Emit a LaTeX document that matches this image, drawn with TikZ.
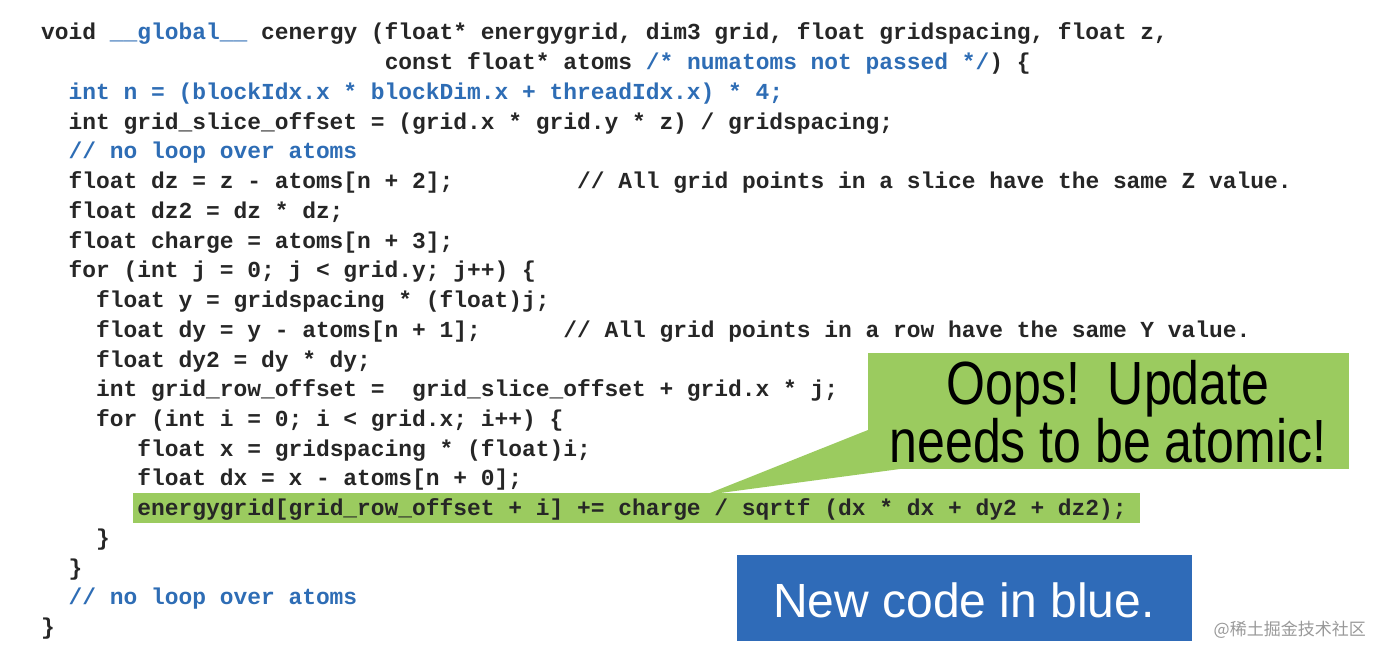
\documentclass[tikz,border=0pt]{standalone}
\usepackage{fontspec}
\setmonofont{Liberation Mono}
\setmainfont{Liberation Sans}
\newfontfamily\narrow[FakeStretch=0.82]{Liberation Sans}
\newfontfamily\cjk{Noto Sans CJK SC}
\definecolor{cb}{HTML}{2E6DB5}
\definecolor{gr}{HTML}{9BCB5F}
\definecolor{bx}{HTML}{2F6BB8}
\begin{document}
\begin{tikzpicture}[x=1pt,y=-1pt,
  code/.style={anchor=base west,inner sep=0pt,font=\fontsize{22.9}{22.9}\selectfont\ttfamily\bfseries,text=black!85}]
\useasboundingbox (0,0) rectangle (1384,660);
\fill[white] (0,0) rectangle (1384,660);
\fill[gr] (133,493) rectangle (1140,523);
\fill[gr] (868,430) -- (900,469) -- (705,495) -- cycle;
\fill[gr] (868,353) rectangle (1349,469);
\node[inner sep=0pt,align=center,font=\fontsize{61}{61}\selectfont\narrow] (oops) at (1108,412) {Oops!\ \ Update\\[-3pt]needs to be atomic!};
\fill[bx] (737,555) rectangle (1192,641);
\node[text=white,inner sep=0pt,font=\fontsize{48}{48}\selectfont] (new) at (964,600) {New code in blue.};
\node[anchor=east,text=black!40,inner sep=0pt,font=\fontsize{17}{17}\selectfont\cjk] (wm) at (1366,630) {@稀土掘金技术社区};
\def\L#1#2{\node[code] at (41,{40+29.73*(#1-1)}) {#2};}
\L{1}{void \textcolor{cb}{\_\_global\_\_} cenergy (float* energygrid, dim3 grid, float gridspacing, float z,}
\L{2}{\ \ \ \ \ \ \ \ \ \ \ \ \ \ \ \ \ \ \ \ \ \ \ \ \ const float* atoms \textcolor{cb}{/* numatoms not passed */}) \{}
\L{3}{\ \ \textcolor{cb}{int n = (blockIdx.x * blockDim.x + threadIdx.x) * 4;}}
\L{4}{\ \ int grid\_slice\_offset = (grid.x * grid.y * z) / gridspacing;}
\L{5}{\ \ \textcolor{cb}{// no loop over atoms}}
\L{6}{\ \ float dz = z - atoms[n + 2];\ \ \ \ \ \ \ \ \ // All grid points in a slice have the same Z value.}
\L{7}{\ \ float dz2 = dz * dz;}
\L{8}{\ \ float charge = atoms[n + 3];}
\L{9}{\ \ for (int j = 0; j < grid.y; j++) \{}
\L{10}{\ \ \ \ float y = gridspacing * (float)j;}
\L{11}{\ \ \ \ float dy = y - atoms[n + 1];\ \ \ \ \ \ // All grid points in a row have the same Y value.}
\L{12}{\ \ \ \ float dy2 = dy * dy;}
\L{13}{\ \ \ \ int grid\_row\_offset =\ \ grid\_slice\_offset + grid.x * j;}
\L{14}{\ \ \ \ for (int i = 0; i < grid.x; i++) \{}
\L{15}{\ \ \ \ \ \ \ float x = gridspacing * (float)i;}
\L{16}{\ \ \ \ \ \ \ float dx = x - atoms[n + 0];}
\L{17}{\ \ \ \ \ \ \ energygrid[grid\_row\_offset + i] += charge / sqrtf (dx * dx + dy2 + dz2);}
\L{18}{\ \ \ \ \}}
\L{19}{\ \ \}}
\L{20}{\ \ \textcolor{cb}{// no loop over atoms}}
\L{21}{\}}
\end{tikzpicture}
\end{document}
